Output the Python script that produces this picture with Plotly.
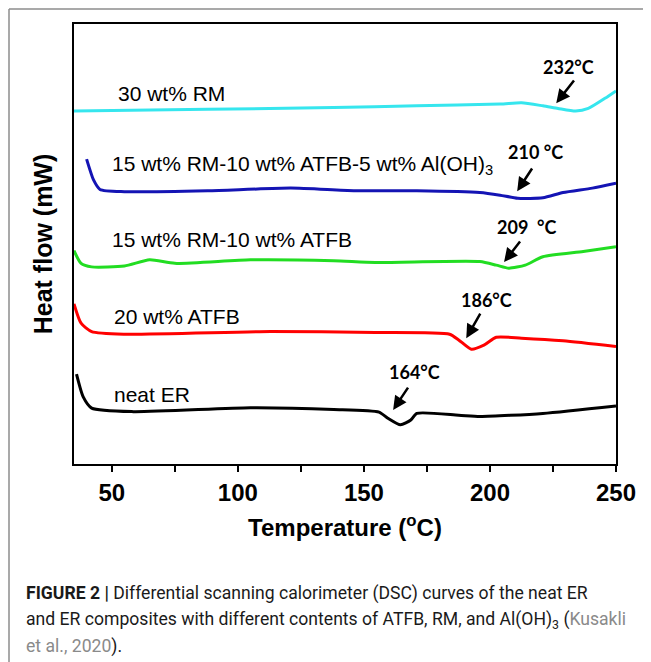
import plotly.graph_objects as go

# ---- data (arbitrary heat-flow units, curves offset) ----
t_rm30 = [35, 88, 138, 171, 204, 212.5, 221, 227, 234, 239, 245.6, 250]
hf_rm30 = [80.2, 80.6, 81.0, 81.4, 81.8, 82.1, 81.4, 80.8, 80.2, 80.8, 83.1, 84.8]

t_rm15_atfb10_aoh5 = [40, 42.8, 45.3, 55, 88, 121, 146, 171, 196, 204, 211, 221, 229, 240.6, 250]
hf_rm15_atfb10_aoh5 = [69.3, 64.5, 62.4, 61.9, 62.1, 62.7, 62.1, 62.1, 61.7, 61.1, 60.4, 60.5, 61.7, 62.7, 63.8]

t_rm15_atfb10 = [35, 37.8, 42, 55, 65, 75, 105, 138, 154.5, 196, 202.5, 207.5, 214, 221, 237, 250]
hf_rm15_atfb10 = [48.5, 45.6, 44.8, 45.0, 46.4, 45.6, 46.4, 46.2, 45.8, 46.0, 45.2, 44.5, 45.2, 47.1, 48.3, 49.4]

t_atfb20 = [35, 37.8, 42, 55, 113, 154.5, 184, 187.6, 192.6, 197.6, 202.5, 212.5, 229, 250]
hf_atfb20 = [36.4, 32.0, 30.1, 29.5, 30.1, 29.9, 29.5, 28.2, 26.1, 27.0, 28.8, 28.6, 28.0, 26.7]

t_neat = [36, 38.6, 42, 58.5, 105, 138, 156, 159.5, 164.5, 168.6, 171, 187.6, 196, 221, 250]
hf_neat = [20.4, 15.3, 12.7, 11.9, 12.8, 12.4, 11.8, 10.4, 8.9, 10.0, 11.5, 11.1, 10.8, 11.5, 13.2]

series_names = ["30 wt% RM", "15 wt% RM-10 wt% ATFB-5 wt% Al(OH)<sub>3</sub>",
                "15 wt% RM-10 wt% ATFB", "20 wt% ATFB", "neat ER"]
series_colors = ["#36E6EE", "#1414B4", "#22DD22", "#FF0000", "#000000"]
series_t = [t_rm30, t_rm15_atfb10_aoh5, t_rm15_atfb10, t_atfb20, t_neat]
series_hf = [hf_rm30, hf_rm15_atfb10_aoh5, hf_rm15_atfb10, hf_atfb20, hf_neat]

# curve label positions (data coords)
label_t = [51.7, 49.3, 49.3, 50, 50]
label_hf = [84.3, 68.0, 51.1, 33.5, 15.7]

# peak annotations: text, label pos, arrow tail, arrow head
peak_text = ["232°C", "210 °C", "209  °C", "186°C", "164°C"]
peak_lbl_t = [231, 217.9, 214.8, 198.5, 169.9]
peak_lbl_hf = [90.2, 70.9, 53.9, 37.3, 20.9]
peak_tail_t = [233.8, 217.1, 212.4, 196.5, 167.9]
peak_tail_hf = [87.5, 67.5, 50.9, 34.5, 17.7]
peak_head_t = [226.3, 210.8, 205.6, 190.6, 161.6]
peak_head_hf = [82.0, 62.0, 45.9, 28.6, 12.3]

x_ticks = [50, 100, 150, 200, 250]

fig = go.Figure()
for name, col, tx, hy in zip(series_names, series_colors, series_t, series_hf):
    fig.add_trace(go.Scatter(x=tx, y=hy, mode="lines", name=name,
                             line=dict(color=col, width=3, shape="spline", smoothing=0.6),
                             showlegend=False))

ann = []
for name, lt, lh in zip(series_names, label_t, label_hf):
    ann.append(dict(x=lt, y=lh, xref="x", yref="y", text=name, showarrow=False,
                    xanchor="left", yanchor="middle",
                    font=dict(family="Liberation Sans, Arial", size=21, color="#000")))

for txt, lt, lh, tt, th, ht, hh in zip(peak_text, peak_lbl_t, peak_lbl_hf,
                                      peak_tail_t, peak_tail_hf, peak_head_t, peak_head_hf):
    ann.append(dict(x=lt, y=lh, xref="x", yref="y", text="<b>" + txt + "</b>",
                    showarrow=False, xanchor="center", yanchor="middle",
                    font=dict(family="Lato, Open Sans", size=18, color="#000")))
    ann.append(dict(x=ht, y=hh, ax=tt, ay=th, xref="x", yref="y", axref="x", ayref="y",
                    text="", showarrow=True, arrowhead=2, arrowsize=1.1, arrowwidth=2.5,
                    arrowcolor="#000", font=dict(size=10)))

# caption
cap_x = (24 - 74) / 542
cap_lines = [
    "<b>FIGURE 2 |</b> Differential scanning calorimeter (DSC) curves of the neat ER",
    "and ER composites with different contents of ATFB, RM, and Al(OH)<sub>3</sub> (<span style='color:#8a8a8a'>Kusakli</span>",
    "<span style='color:#8a8a8a'>et al., 2020</span>).",
]
cap_y_px = [593, 620, 646]
for line, py in zip(cap_lines, cap_y_px):
    ann.append(dict(x=cap_x, y=(464 - py) / 440, xref="paper", yref="paper", text=line,
                    showarrow=False, xanchor="left", yanchor="middle",
                    font=dict(family="Roboto, Liberation Sans", size=17.6, color="#1a1a1a")))

frame_left = (9 - 74) / 542
frame_top = (464 - 9) / 440
frame_line = dict(color="#8c8c8c", width=1.5)

fig.update_layout(
    width=643, height=654,
    margin=dict(l=66, r=35, t=16, b=198),
    paper_bgcolor="white", plot_bgcolor="white",
    annotations=ann,
    shapes=[
        dict(type="line", xref="paper", yref="paper", x0=frame_left, x1=frame_left,
             y0=(464 - 700) / 440, y1=frame_top, line=frame_line, layer="below"),
        dict(type="line", xref="paper", yref="paper", x0=frame_left, x1=(700 - 74) / 542,
             y0=frame_top, y1=frame_top, line=frame_line, layer="below"),
    ],
    xaxis=dict(range=[35, 250], tickmode="array", tickvals=x_ticks,
               ticks="outside", ticklen=6, tickwidth=2, tickcolor="#000",
               minor=dict(tickmode="array", tickvals=[75, 125, 175, 225],
                          ticks="outside", ticklen=6, tickwidth=2, tickcolor="#000"),
               showline=True, linecolor="#000", linewidth=2, mirror=True,
               showgrid=False, zeroline=False,
               tickfont=dict(family="Liberation Sans, Arial", size=24, color="#000", weight="bold"),
               title=dict(text="<b>Temperature (<sup>o</sup>C)</b>", standoff=14,
                          font=dict(family="Liberation Sans, Arial", size=24, color="#000"))),
    yaxis=dict(range=[0, 100], showticklabels=False, ticks="",
               showline=True, linecolor="#000", linewidth=2, mirror=True,
               showgrid=False, zeroline=False,
               title=dict(text="<b>Heat flow (mW)</b>", standoff=12,
                          font=dict(family="Liberation Sans, Arial", size=25, color="#000"))),
)

fig.write_html("out.html")
